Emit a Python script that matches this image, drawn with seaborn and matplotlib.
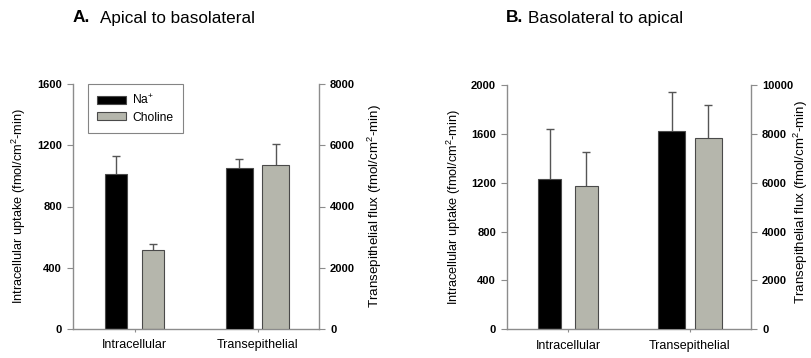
import matplotlib
matplotlib.use("Agg")
import matplotlib.pyplot as plt
import seaborn as sns
import pandas as pd
import numpy as np

sns.set_style("white")
plt.rcParams['font.family'] = ['Liberation Sans', 'DejaVu Sans']
plt.rcParams['mathtext.fontset'] = 'custom'
plt.rcParams['mathtext.rm'] = 'Liberation Sans'
plt.rcParams['mathtext.it'] = 'Liberation Sans:italic'
plt.rcParams['mathtext.bf'] = 'Liberation Sans:bold'
plt.rcParams['text.color'] = 'black'
plt.rcParams['axes.labelcolor'] = 'black'
plt.rcParams['xtick.labelcolor'] = 'black'
plt.rcParams['ytick.labelcolor'] = 'black'

# ---- data ----
categories = ["Intracellular", "Transepithelial"]
conditions = ["Na$^{+}$", "Choline"]

a_intra = [1012, 516]
a_intra_err = [120, 40]
a_trans = [5270, 5345]
a_trans_err = [275, 700]

b_intra = [1230, 1173]
b_intra_err = [407, 276]
b_trans = [8117, 7843]
b_trans_err = [1610, 1340]

a_left_ticks = [0, 400, 800, 1200, 1600]
a_right_ticks = [0, 2000, 4000, 6000, 8000]
b_left_ticks = [0, 400, 800, 1200, 1600, 2000]
b_right_ticks = [0, 2000, 4000, 6000, 8000, 10000]

palette = ["#000000", "#b7b8aa"]
edge = "#4a4a4a"
spine_c = "#8c8c8c"
err_c = "#555555"

fig = plt.figure(figsize=(8.11, 3.58), dpi=100)
W, H = 811, 358


def add_errors(ax, errs):
    bars = [p for p in ax.patches if p.get_width() > 0 and p.get_height() > 0]
    bars.sort(key=lambda p: p.get_x())
    xs = [p.get_x() + p.get_width() / 2 for p in bars]
    ys = [p.get_height() for p in bars]
    _, caps, _ = ax.errorbar(xs, ys, yerr=[np.zeros(len(errs)), errs], fmt='none',
                             ecolor=err_c, elinewidth=1.0, capsize=3.2, capthick=1.0,
                             zorder=0.8)
    for c in caps:
        if np.allclose(c.get_ydata(), ys):
            c.set_visible(False)


def panel(rect, intra, intra_err, trans, trans_err, lt, rt, legend,
          lcoord, rcoord, rfs):
    ax = fig.add_axes(rect)
    df1 = pd.DataFrame({"cat": [categories[0]] * 2, "cond": conditions, "val": intra})
    sns.barplot(data=df1, x="cat", y="val", hue="cond", order=categories,
                hue_order=conditions, palette=palette, width=0.6, gap=0.38,
                edgecolor=edge, linewidth=0.8, errorbar=None, ax=ax, legend=legend,
                zorder=1)
    add_errors(ax, intra_err)
    ax2 = ax.twinx()
    df2 = pd.DataFrame({"cat": [categories[1]] * 2, "cond": conditions, "val": trans})
    sns.barplot(data=df2, x="cat", y="val", hue="cond", order=categories,
                hue_order=conditions, palette=palette, width=0.6, gap=0.27,
                edgecolor=edge, linewidth=0.8, errorbar=None, ax=ax2, legend=False,
                zorder=1)
    add_errors(ax2, trans_err)
    for a in (ax, ax2):
        a.set_xlim(-0.5, 1.5)
        a.set_xlabel("")
    ax.set_ylim(lt[0], lt[-1])
    ax2.set_ylim(rt[0], rt[-1])
    ax.set_yticks(lt)
    ax2.set_yticks(rt)
    ax.set_yticklabels([str(v) for v in lt], fontweight='bold', fontsize=8)
    ax2.set_yticklabels([str(v) for v in rt], fontweight='bold', fontsize=8)
    ax.set_xticks([0, 1])
    ax.set_xticklabels(categories, fontsize=9)
    ax.set_ylabel("Intracellular uptake (fmol/cm$^{2}$-min)", fontsize=9.2)
    ax2.set_ylabel("Transepithelial flux (fmol/cm$^{2}$-min)", fontsize=rfs)
    ax.yaxis.set_label_coords(*lcoord)
    ax2.yaxis.set_label_coords(*rcoord)
    for a in (ax, ax2):
        a.spines['top'].set_visible(False)
    ax.spines['right'].set_visible(False)
    ax2.spines['left'].set_visible(False)
    ax2.spines['bottom'].set_visible(False)
    for s in ('left', 'bottom'):
        ax.spines[s].set_color(spine_c)
        ax.spines[s].set_linewidth(1.0)
    ax2.spines['right'].set_color(spine_c)
    ax2.spines['right'].set_linewidth(1.0)
    ax.tick_params(axis='y', which='both', left=True, length=4, width=0.8, color=spine_c,
                   labelcolor='black', pad=4)
    ax.tick_params(axis='x', bottom=True, length=2.5, width=0.8, color=spine_c,
                   labelcolor='black', pad=5)
    ax2.tick_params(axis='y', right=True, length=4, width=0.8, color=spine_c,
                    labelcolor='black', pad=4)
    ax.grid(False)
    ax2.grid(False)
    if legend:
        leg = ax.get_legend()
        handles = leg.legend_handles
        leg.remove()
        leg = ax2.legend(handles, conditions, loc='upper left', bbox_to_anchor=(0.06, 1.0),
                         fontsize=8.7, frameon=True, fancybox=False, handlelength=2.35,
                         handleheight=0.65, borderpad=0.8, labelspacing=0.35,
                         handletextpad=0.55, borderaxespad=0)
        leg.get_frame().set_edgecolor('#666666')
        leg.get_frame().set_linewidth(0.8)
        for hnd in leg.legend_handles:
            hnd.set_edgecolor(edge)
            hnd.set_linewidth(0.8)
        for t in leg.get_texts():
            t.set_color('black')
    return ax, ax2


panel([73 / W, 1 - 329 / H, 246 / W, 245 / H], a_intra, a_intra_err, a_trans, a_trans_err,
      a_left_ticks, a_right_ticks, True, (-0.183, 0.5), (1.192, 0.5), 9.6)
panel([507 / W, 1 - 329.3 / H, 244 / W, 244.3 / H], b_intra, b_intra_err, b_trans, b_trans_err,
      b_left_ticks, b_right_ticks, False, (-0.18, 0.5), (1.168, 0.52), 9.6)

ty = 1 - 18 / H
fig.text(73 / W, ty, "A.", fontsize=12.5, fontweight='bold', va='center', ha='left')
fig.text(100 / W, ty, "Apical to basolateral", fontsize=12.3, va='center', ha='left')
fig.text(506 / W, ty, "B.", fontsize=12.5, fontweight='bold', va='center', ha='left')
fig.text(528 / W, ty, "Basolateral to apical", fontsize=12.3, va='center', ha='left')

fig.savefig("out.png", dpi=100)
